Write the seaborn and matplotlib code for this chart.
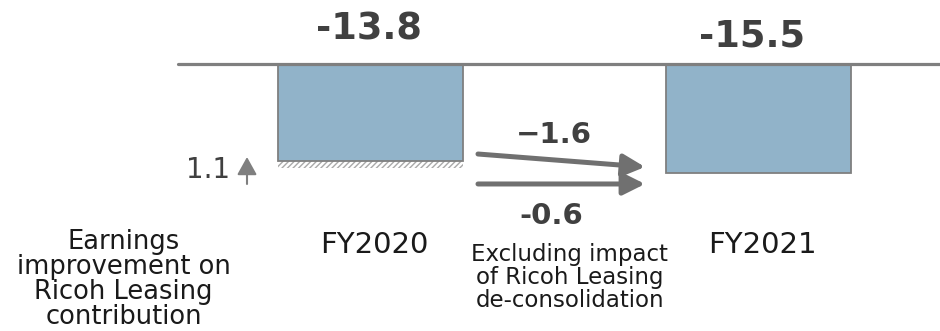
import matplotlib
matplotlib.use("Agg")
import matplotlib.pyplot as plt
import seaborn as sns
import pandas as pd

# ---- data ----
categories = ["FY2020", "FY2021"]
values = [-13.8, -15.5]
value_labels = ["-13.8", "-15.5"]
improvement = 1.1
improvement_label = "1.1"
change_total = "\u22121.6"
change_excl = "-0.6"
note_excl = "Excluding impact\nof Ricoh Leasing\nde-consolidation"
note_improve = "Earnings\nimprovement on\nRicoh Leasing\ncontribution"

sns.set_theme(style="white")
plt.rcParams["font.family"] = ["DejaVu Sans"]

fig = plt.figure(figsize=(9.4, 3.31), dpi=100)
ax = fig.add_axes([0, 0, 1, 1])

df = pd.DataFrame({"cat": categories, "val": values})
bar_w = 185 / 387.5
sns.barplot(data=df, x="cat", y="val", ax=ax, color="#91b3c9", saturation=1,
            width=bar_w, edgecolor="#7f7f7f", linewidth=1.3, zorder=2)

# hatched improvement strip under FY2020
ax.bar(0, -improvement, bottom=values[0], width=bar_w, fill=False,
       hatch="//////", edgecolor="#a9a9a9", linewidth=0, zorder=1)

# baseline
ax.axhline(0, xmin=178 / 940, xmax=1, color="#7f7f7f", lw=2.3, zorder=3)

ax.set_xlim(-370.5 / 387.5, 1 + (940 - 758) / 387.5)
ax.set_ylim(-(331 - 64) / 7.0, 64 / 7.0)
ax.axis("off")

# value labels above baseline
label_dx = [-0.003, -0.015]
label_y = [3.43, 2.43]
for i, lab in enumerate(value_labels):
    ax.text(i + label_dx[i], label_y[i], lab, ha="center", va="baseline",
            fontsize=26.5, fontweight="bold", color="#404040")

# category labels
for i, c in enumerate(categories):
    ax.text(i + 0.011, -27.0, c, ha="center", va="baseline", fontsize=21,
            color="#1a1a1a")

# arrows
arrow_kw = dict(arrowstyle="-|>,head_length=1.1,head_width=0.55", color="#707070",
                lw=3.6, shrinkA=0, shrinkB=0)
ax.annotate("", xy=(0.7084, -14.71), xytext=(0.2774, -12.86), arrowprops=arrow_kw)
ax.annotate("", xy=(0.7084, -17.14), xytext=(0.2774, -17.14), arrowprops=arrow_kw)
ax.text(0.4735, -11.29, change_total, ha="center", va="baseline", fontsize=21,
        fontweight="bold", color="#404040")
ax.text(0.466, -22.86, change_excl, ha="center", va="baseline", fontsize=21,
        fontweight="bold", color="#404040")
ax.text(0.514, -30.43, note_excl, ha="center", va="center", fontsize=16.5,
        color="#1a1a1a", linespacing=1.0)

# improvement annotation
ax.text(-0.3626, -16.29, improvement_label, ha="right", va="baseline", fontsize=20,
        color="#404040")
ax.annotate("", xy=(-0.3187, -13.29), xytext=(-0.3187, -17.14),
            arrowprops=dict(arrowstyle="-|>,head_length=0.9,head_width=0.5",
                            color="#7f7f7f", lw=1.5, shrinkA=0, shrinkB=0))
ax.text(-0.637, -30.8, note_improve, ha="center", va="center", fontsize=18.5,
        color="#1a1a1a", linespacing=0.95)

fig.savefig("out.png", dpi=100)
